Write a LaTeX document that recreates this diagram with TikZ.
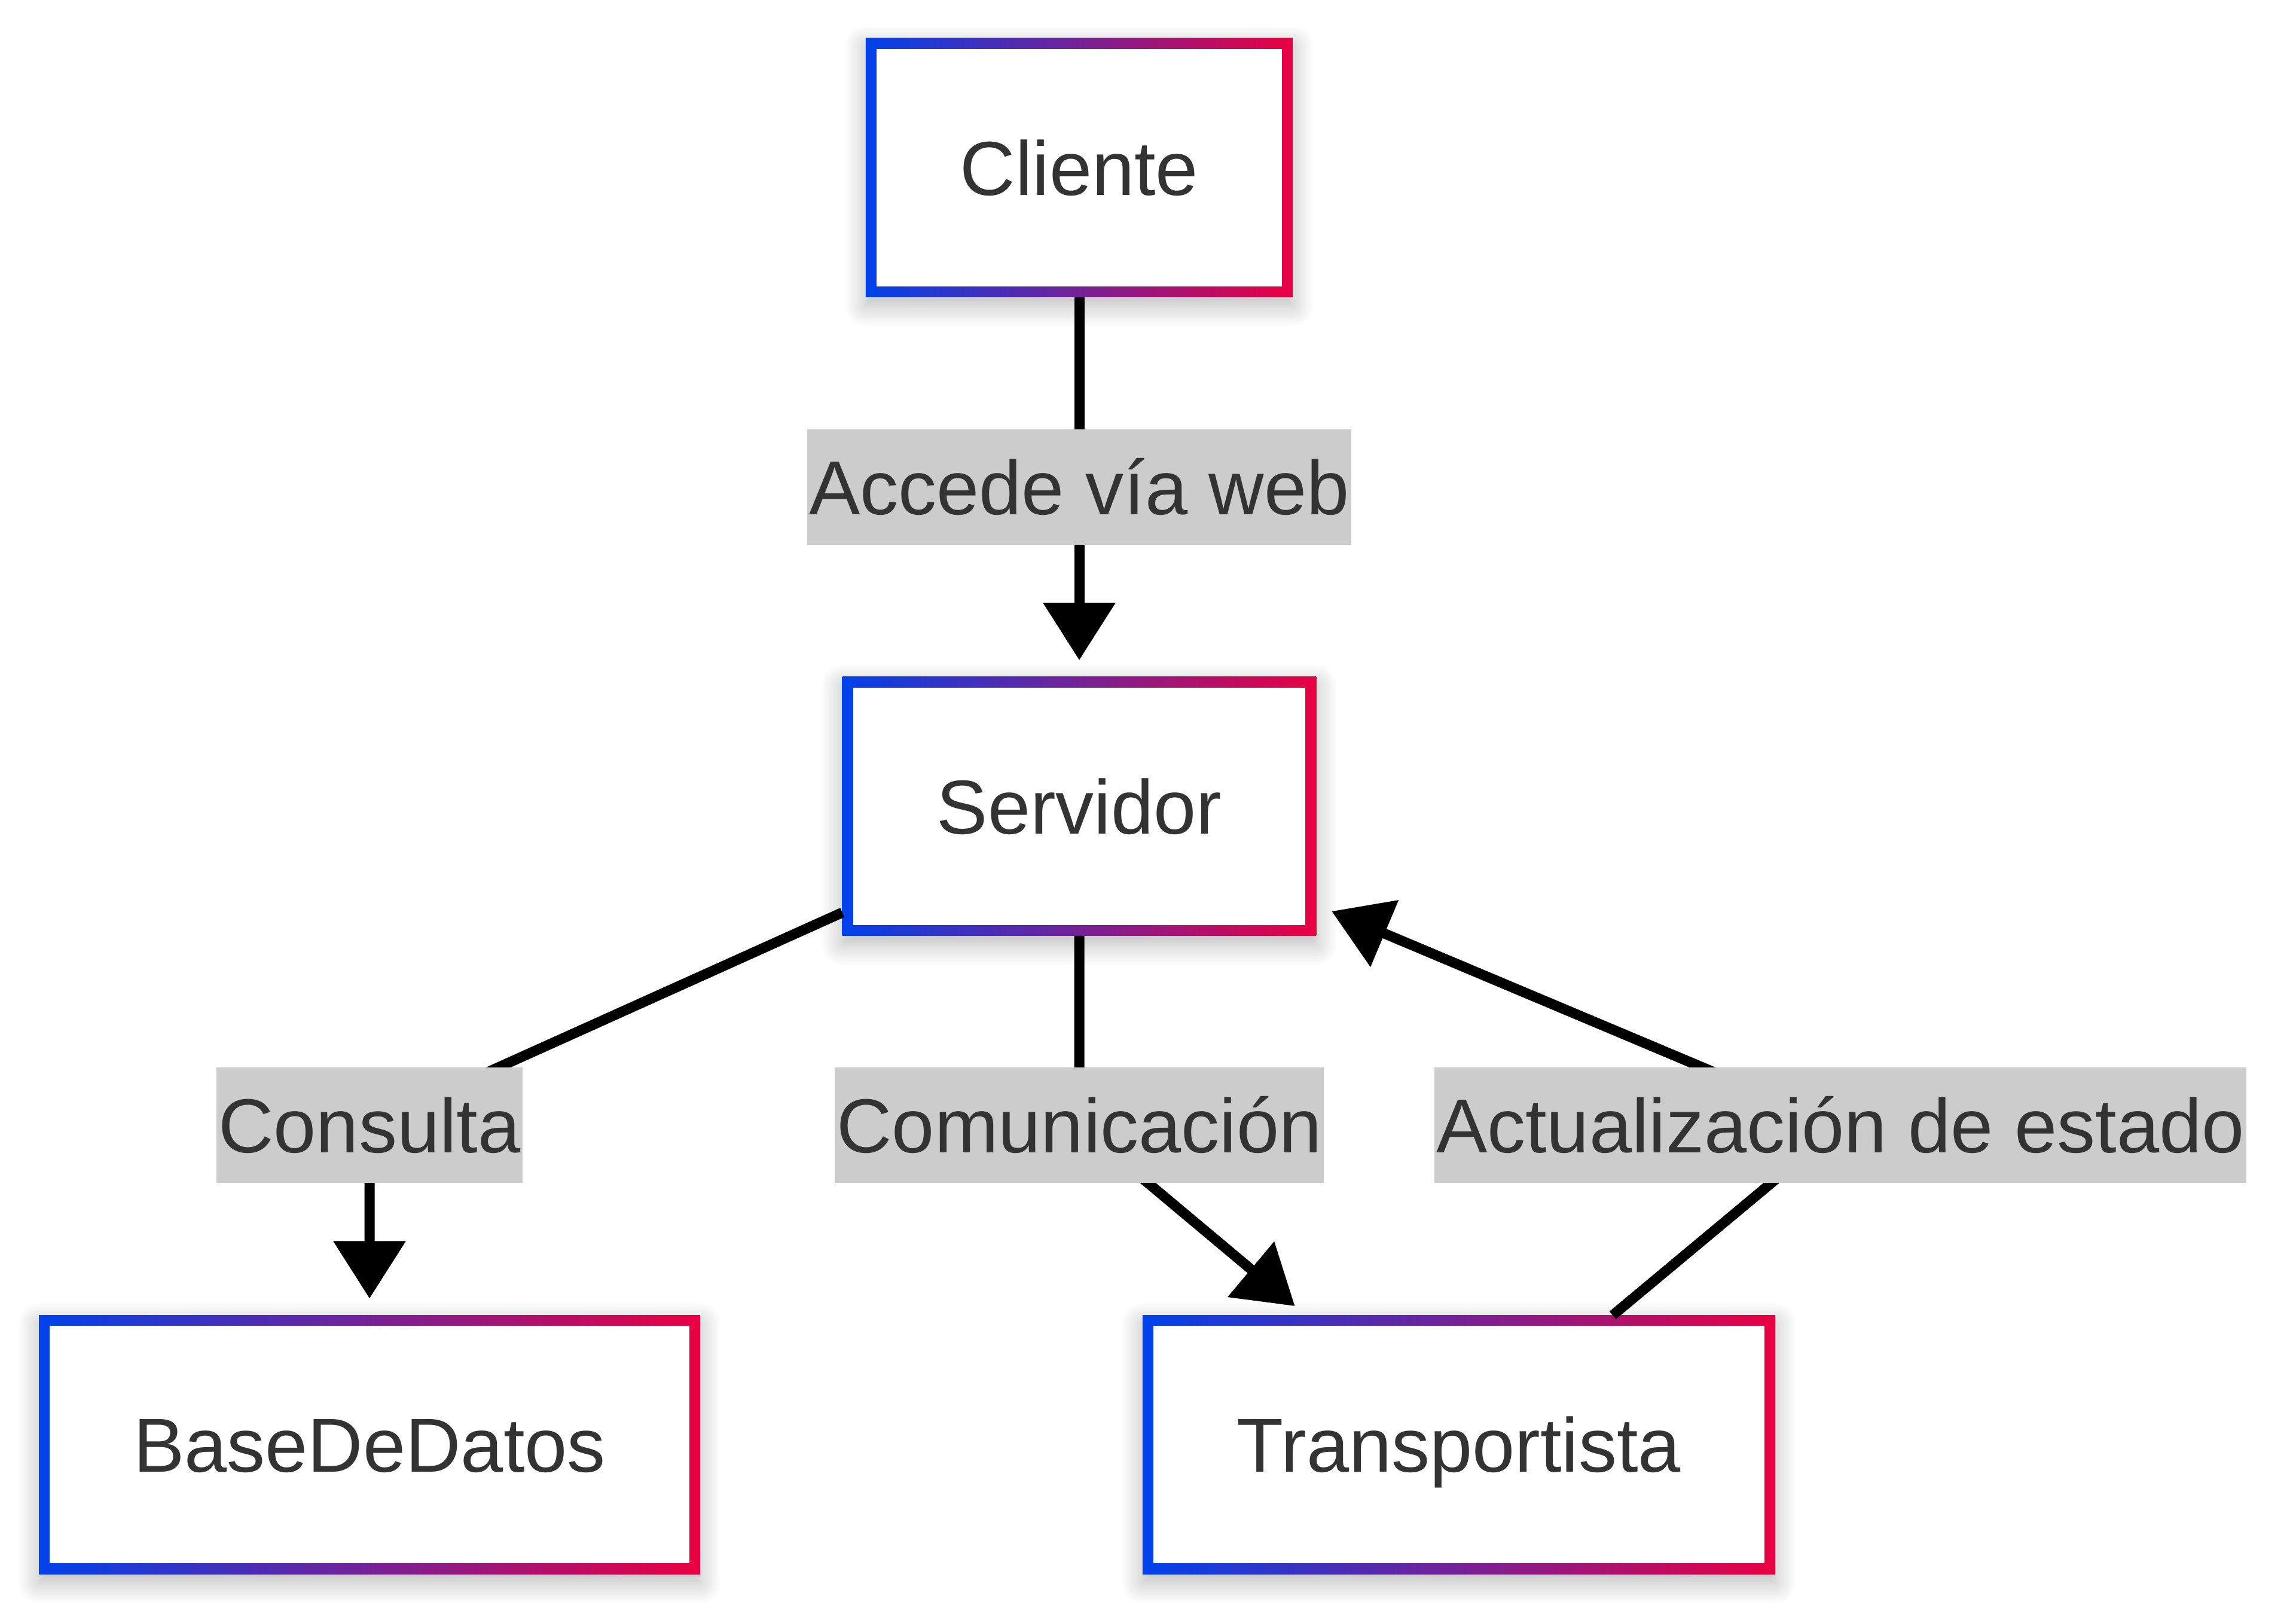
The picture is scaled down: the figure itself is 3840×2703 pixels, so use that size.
\documentclass[tikz,border=0pt]{standalone}
\usepackage{fontspec}
\setmainfont{Liberation Sans}
\usetikzlibrary{arrows.meta,shadows.blur}
\definecolor{cBlue}{RGB}{0,66,235}
\definecolor{cRed}{RGB}{234,0,66}
\definecolor{cText}{HTML}{333333}
\definecolor{cLabel}{HTML}{CCCCCC}
\pgfdeclarelayer{fg}
\pgfsetlayers{main,fg}
\tikzset{
  box/.style={rectangle, outer sep=0pt, inner xsep=158pt, inner ysep=0pt,
    minimum height=433pt, text height=92pt, text depth=0pt,
    left color=cBlue, right color=cRed, text=cText,
    font=\fontsize{128pt}{150pt}\selectfont,
    blur shadow={shadow xshift=0pt, shadow yshift=-14pt, shadow blur radius=36pt, shadow opacity=28, shadow blur steps=14},
    path picture={\fill[white] ([shift={(18pt,18pt)}]path picture bounding box.south west) rectangle ([shift={(-18pt,-18pt)}]path picture bounding box.north east);}},
  elabel/.style={rectangle, fill=cLabel, outer sep=0pt, inner xsep=3pt, inner ysep=0pt,
    minimum height=193pt, text height=92pt, text depth=0pt, text=cText,
    font=\fontsize{128pt}{150pt}\selectfont},
  edge/.style={line width=17pt, draw=black, -{Triangle[length=96pt,width=117pt]}, shorten >=28pt}
}
\begin{document}
\begin{tikzpicture}[x=1pt,y=1pt]
\useasboundingbox (0,0) rectangle (3840,2703);
% nodes
\node[box] (Cliente) at (1805,2422.5) {Cliente};
\node[box] (Servidor) at (1805,1354.5) {Servidor};
\node[box] (BaseDeDatos) at (618,287) {BaseDeDatos};
\node[box] (Transportista) at (2440,287) {Transportista};
% edge labels
\begin{pgfonlayer}{fg}
\node[elabel] (lAccede) at (1805,1888.5) {Accede vía web};
\node[elabel] (lConsulta) at (618,821) {Consulta};
\node[elabel] (lComunic) at (1805,821) {Comunicación};
\node[elabel] (lActual) at (3078,821) {Actualización de estado};
\end{pgfonlayer}
% edges
\draw[edge] (Cliente) -- (lAccede.center) -- (Servidor);
\draw[edge] (Servidor) -- (lConsulta.center) -- (BaseDeDatos);
\draw[edge, shorten >=24pt] (Servidor) -- (lComunic.center) -- (Transportista);
\draw[edge] (Transportista) -- (lActual.center) -- (Servidor);
\end{tikzpicture}
\end{document}
